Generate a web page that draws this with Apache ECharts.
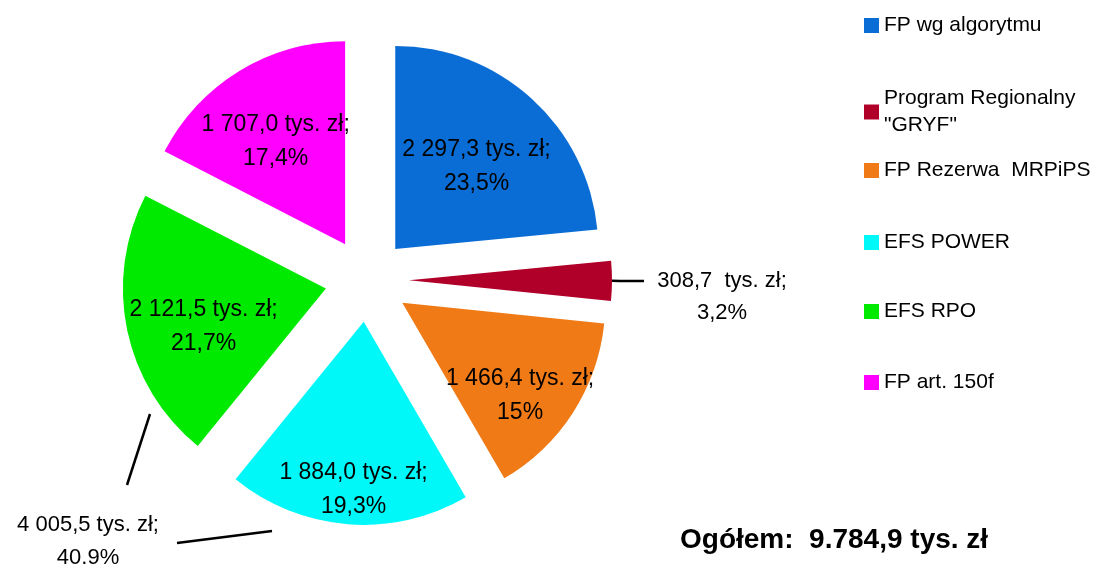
<!DOCTYPE html>
<html>
<head>
<meta charset="utf-8">
<title>Struktura środków</title>
<script src="https://cdn.jsdelivr.net/npm/echarts@6/dist/echarts.min.js"></script>
<style>
  html, body { margin: 0; padding: 0; background: #fff; }
  #chart { width: 1104px; height: 565px; }
</style>
</head>
<body>
<div id="chart"></div>
<script>
// dane z wykresu (tys. zł)
const categories = ['FP wg algorytmu', 'Program Regionalny "GRYF"', 'FP Rezerwa  MRPiPS', 'EFS POWER', 'EFS RPO', 'FP art. 150f']
const values = [2297.3, 308.7, 1466.4, 1884.0, 2121.5, 1707.0]
const percentLabels = ['23,5%', '3,2%', '15%', '19,3%', '21,7%', '17,4%']
const combinedPercent = '40.9%' // EFS POWER + EFS RPO
const colors = ['#0a6dd5', '#b0002a', '#f07a16', '#00f8f8', '#00ea00', '#ff00ff']

// przesunięcie etykiet wewnątrz wycinków [dx, dy] (px)
const labelOffsets = [[11, -5], [0, 0], [30, 36], [-2, 64], [-20, 17], [-15, -13]]
const legendTops = [7, 80, 152, 224, 293, 364]
const FONT = "'Liberation Sans', 'Open Sans', sans-serif"

function fmt(v, thou, dec) {
  const parts = v.toFixed(1).split('.')
  return parts[0].replace(/\B(?=(\d{3})+(?!\d))/g, thou) + dec + parts[1]
}

const total = values.reduce((a, b) => a + b, 0)

const chart = echarts.init(document.getElementById('chart'))

const pieData = categories.map((name, i) => {
  const item = {
    name: name,
    value: values[i],
    selected: true,
    itemStyle: { color: colors[i] }
  }
  if (i === 1) {
    item.label = {
      position: 'outside',
      padding: [32, 0, 0, 0],
      formatter: '{c|' + fmt(values[i], ' ', ',') + '  tys. zł;}\n{c|' + percentLabels[i] + '}',
      rich: {
        c: { width: 146, align: 'center', fontSize: 22, lineHeight: 32, fontFamily: FONT, color: '#000' }
      }
    }
    item.labelLine = {
      show: true,
      length: 8,
      length2: 24,
      lineStyle: { color: '#000', width: 2.5 }
    }
  }
  return item
})

const legends = categories.map((name, i) => ({
  orient: 'vertical',
  left: 859,
  top: legendTops[i],
  selectedMode: false,
  itemWidth: 15,
  itemHeight: 15,
  icon: 'rect',
  data: [name],
  formatter: n => n.replace(' "GRYF"', '\n"GRYF"'),
  textStyle: { fontSize: 21, lineHeight: 27, fontFamily: FONT, color: '#000' }
}))

const combinedText = fmt(values[3] + values[4], ' ', ',') + ' tys. zł;\n' + combinedPercent

chart.setOption({
  animation: false,
  legend: legends,
  series: [
    {
      type: 'pie',
      center: [367, 280],
      radius: 203,
      startAngle: 90,
      clockwise: true,
      selectedMode: 'multiple',
      selectedOffset: 42,
      emphasis: { scale: false },
      label: {
        show: true,
        position: 'inside',
        color: '#000',
        fontSize: 23,
        lineHeight: 34,
        fontFamily: FONT,
        formatter: p => fmt(p.value, ' ', ',') + ' tys. zł;\n' + percentLabels[p.dataIndex]
      },
      labelLayout: p => {
        const o = labelOffsets[p.dataIndex]
        if (!o[0] && !o[1]) return {}
        return { dx: o[0], dy: o[1] }
      },
      data: pieData
    }
  ],
  graphic: [
    {
      type: 'text',
      x: 88,
      y: 508,
      style: {
        text: combinedText,
        font: '22px ' + FONT,
        lineHeight: 33,
        align: 'center',
        fill: '#000'
      }
    },
    {
      type: 'line',
      shape: { x1: 150, y1: 414, x2: 127, y2: 485 },
      style: { stroke: '#000', lineWidth: 2.5 }
    },
    {
      type: 'line',
      shape: { x1: 272, y1: 531, x2: 177, y2: 543 },
      style: { stroke: '#000', lineWidth: 2.5 }
    },
    {
      type: 'text',
      left: 680,
      top: 526,
      style: {
        text: 'Ogółem:  ' + fmt(total, '.', ',') + ' tys. zł',
        font: 'bold 28px ' + FONT,
        fill: '#000'
      }
    }
  ]
})
</script>
</body>
</html>
